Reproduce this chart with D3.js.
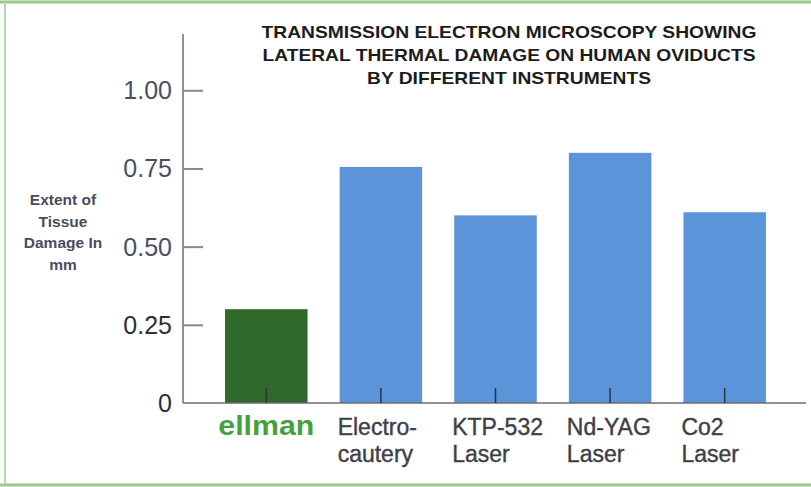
<!DOCTYPE html>
<html>
<head>
<meta charset="utf-8">
<script src="https://cdn.jsdelivr.net/npm/d3@7"></script>
<style>
  body { margin: 0; background: #fff; }
  svg { display: block; font-family: "Liberation Sans", Arial, sans-serif; }
</style>
</head>
<body>
<div id="chart"></div>
<script>
const categories = ["ellman", "Electro-cautery", "KTP-532 Laser", "Nd-YAG Laser", "Co2 Laser"];
const labelLines = [["ellman"], ["Electro-", "cautery"], ["KTP-532", "Laser"], ["Nd-YAG", "Laser"], ["Co2", "Laser"]];
const damageValues = [0.30, 0.755, 0.60, 0.80, 0.61];
const yTicks = [0, 0.25, 0.5, 0.75, 1.0];
const yTickLabels = ["0", "0.25", "0.50", "0.75", "1.00"];
const titleLines = ["TRANSMISSION ELECTRON MICROSCOPY SHOWING", "LATERAL THERMAL DAMAGE ON HUMAN OVIDUCTS", "BY DIFFERENT INSTRUMENTS"];
const yTitleLines = ["Extent of", "Tissue", "Damage In", "mm"];

const width = 811, height = 487;

const svg = d3.select("#chart").append("svg")
    .attr("width", width)
    .attr("height", height);

// frame
svg.append("line").attr("x1", 0).attr("x2", width).attr("y1", 2).attr("y2", 2)
    .attr("stroke", "#9cc98a").attr("stroke-width", 3);
svg.append("line").attr("x1", 5).attr("x2", 5).attr("y1", 2).attr("y2", 485)
    .attr("stroke", "#b2dba8").attr("stroke-width", 2);
svg.append("line").attr("x1", 0).attr("x2", width).attr("y1", 485).attr("y2", 485)
    .attr("stroke", "#9cc98a").attr("stroke-width", 3);

const xScale = d3.scaleBand().domain(categories).range([209, 782]).paddingInner(0.28).paddingOuter(0.14);
const yScale = d3.scaleLinear().domain([0, 1.18]).range([403, 34]);

// bars
svg.selectAll(".bar")
    .data(categories)
    .enter()
    .append("rect")
    .attr("class", "bar")
    .attr("x", d => xScale(d))
    .attr("width", xScale.bandwidth())
    .attr("y", (d, i) => yScale(damageValues[i]))
    .attr("height", (d, i) => yScale(0) - yScale(damageValues[i]))
    .attr("fill", (d, i) => i === 0 ? "#2f6a2b" : "#5b94d8");

// y axis
const yAxis = svg.append("g")
    .attr("transform", "translate(183,0)")
    .call(d3.axisRight(yScale).tickValues(yTicks).tickSize(20).tickFormat(""));
yAxis.select(".domain").attr("stroke", "#6b6b73").attr("stroke-width", 1.5).attr("d", `M0,${yScale(1.18)}V${yScale(0)}`);
yAxis.selectAll(".tick line").attr("stroke", "#7d8ba0").attr("stroke-width", 2);
yAxis.selectAll(".tick").filter(d => d === 0).select("line").remove();

svg.selectAll(".ytl")
    .data(yTicks)
    .enter()
    .append("text")
    .attr("class", "ytl")
    .attr("x", 172)
    .attr("y", d => yScale(d) + 9)
    .attr("text-anchor", "end")
    .attr("font-size", 25)
    .attr("fill", (d, i) => i <= 1 ? "#2e2e36" : "#4b4e62")
    .text((d, i) => yTickLabels[i]);

// x axis
const xAxis = svg.append("g")
    .attr("transform", `translate(0,${yScale(0)})`)
    .call(d3.axisTop(xScale).tickSize(15).tickFormat(""));
xAxis.select(".domain").attr("stroke", "#6b6b73").attr("stroke-width", 1.5).attr("d", "M183,0H806");
xAxis.selectAll(".tick line").attr("stroke", "#2a3440").attr("stroke-width", 1.5);

// category labels
labelLines.forEach((lines, i) => {
    const cat = categories[i];
    if (i === 0) {
        svg.append("text")
            .attr("x", xScale(cat) + xScale.bandwidth() / 2)
            .attr("y", 435)
            .attr("text-anchor", "middle")
            .attr("font-size", 27)
            .attr("font-weight", "bold")
            .attr("fill", "#46a03f")
            .attr("textLength", 96)
            .attr("lengthAdjust", "spacingAndGlyphs")
            .text(lines[0]);
    } else {
        lines.forEach((ln, j) => {
            svg.append("text")
                .attr("x", xScale(cat) - 2)
                .attr("y", 435 + j * 27)
                .attr("font-size", 23)
                .attr("fill", "#3e3f47")
                .attr("stroke", "#3e3f47")
                .attr("stroke-width", 0.4)
                .text(ln);
        });
    }
});

// title
svg.selectAll(".title")
    .data(titleLines)
    .enter()
    .append("text")
    .attr("class", "title")
    .attr("x", 509)
    .attr("y", (d, i) => 38 + i * 23)
    .attr("text-anchor", "middle")
    .attr("font-size", 17)
    .attr("font-weight", "bold")
    .attr("fill", "#1c1c1c")
    .attr("textLength", (d, i) => [495, 493, 284][i])
    .attr("lengthAdjust", "spacingAndGlyphs")
    .text(d => d);

// y title
svg.selectAll(".ytitle")
    .data(yTitleLines)
    .enter()
    .append("text")
    .attr("class", "ytitle")
    .attr("x", 63)
    .attr("y", (d, i) => 205 + i * 21.5)
    .attr("text-anchor", "middle")
    .attr("font-size", 15.5)
    .attr("font-weight", "bold")
    .attr("fill", "#4a4c5e")
    .text(d => d);
</script>
</body>
</html>
